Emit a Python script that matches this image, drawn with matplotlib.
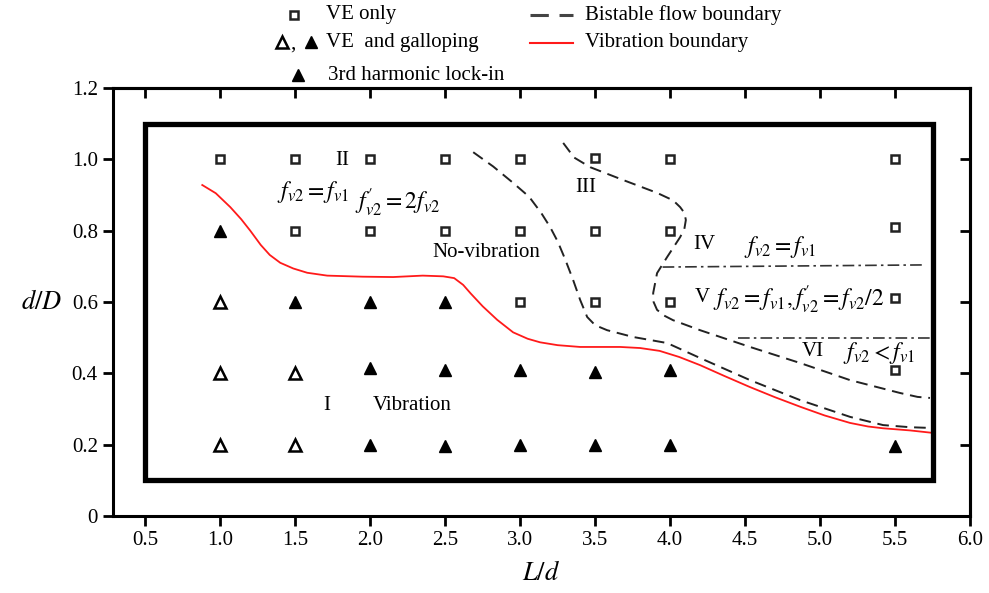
import numpy as np
import matplotlib
matplotlib.use('Agg')
import matplotlib.pyplot as plt
from matplotlib.patches import Rectangle

plt.rcParams['font.family'] = ['Liberation Serif', 'DejaVu Serif']
plt.rcParams['mathtext.fontset'] = 'stix'

# measured points
ve_only_x = [1.0, 1.5, 2.0, 2.5, 3.0, 3.5, 4.0, 5.5,
             1.5, 2.0, 2.5, 3.0, 3.5, 4.0, 5.5,
             3.0, 3.5, 4.0, 5.5, 5.5]
ve_only_y = [1.0, 1.0, 1.0, 1.0, 1.0, 1.005, 1.0, 1.0,
             0.8, 0.8, 0.8, 0.8, 0.8, 0.8, 0.81,
             0.6, 0.6, 0.6, 0.61, 0.41]
gallop_open_x = [1.0, 1.0, 1.5, 1.0, 1.5]
gallop_open_y = [0.6, 0.4, 0.4, 0.2, 0.2]
gallop_fill_x = [1.0, 1.5, 2.0, 2.5, 2.0, 2.5, 3.0, 3.5, 4.0,
                 2.0, 2.5, 3.0, 3.5, 4.0, 5.5]
gallop_fill_y = [0.8, 0.6, 0.6, 0.6, 0.415, 0.41, 0.41, 0.405, 0.41,
                 0.2, 0.195, 0.2, 0.2, 0.2, 0.195]

# vibration boundary (red)
vib_x = [0.88, 0.97, 1.067, 1.14, 1.2, 1.27, 1.33, 1.4, 1.487, 1.58, 1.713, 1.95,
         2.153, 2.35, 2.487, 2.56, 2.62, 2.67, 2.75, 2.847, 2.953, 3.05, 3.133,
         3.25, 3.4, 3.667, 3.8, 3.93, 4.06, 4.2, 4.36, 4.53, 4.7, 4.87, 5.03,
         5.2, 5.32, 5.42, 5.6, 5.753]
vib_y = [0.928, 0.905, 0.866, 0.832, 0.80, 0.76, 0.732, 0.71, 0.694, 0.682, 0.674,
         0.671, 0.67, 0.674, 0.672, 0.667, 0.648, 0.624, 0.588, 0.55, 0.515, 0.497,
         0.487, 0.479, 0.474, 0.474, 0.471, 0.463, 0.446, 0.423, 0.393, 0.362,
         0.333, 0.306, 0.282, 0.261, 0.251, 0.246, 0.24, 0.233]

# bistable flow boundaries (dashed)
bi1_x = [2.687, 2.82, 2.953, 3.06, 3.14, 3.2, 3.25, 3.3, 3.353, 3.4, 3.447, 3.5,
         3.58, 3.753, 3.98, 4.2, 4.533, 4.867, 5.2, 5.42, 5.6, 5.733]
bi1_y = [1.02, 0.98, 0.934, 0.895, 0.85, 0.81, 0.77, 0.72, 0.662, 0.606, 0.558, 0.535,
         0.521, 0.502, 0.485, 0.443, 0.381, 0.325, 0.278, 0.255, 0.249, 0.247]
bi2_x = [3.287, 3.36, 3.467, 3.687, 3.913, 4.02, 4.067, 4.095, 4.105, 4.095, 4.067,
         3.98, 3.913, 3.887, 3.89, 3.913, 3.96, 4.02, 4.2, 4.533, 4.867, 5.2,
         5.533, 5.65, 5.733]
bi2_y = [1.046, 1.005, 0.978, 0.942, 0.906, 0.885, 0.866, 0.85, 0.83, 0.805, 0.782,
         0.726, 0.681, 0.625, 0.6, 0.578, 0.562, 0.549, 0.521, 0.474, 0.429, 0.381,
         0.345, 0.334, 0.331]

# dash-dot region separators
sep_upper_x = [3.95, 5.69]
sep_upper_y = [0.698, 0.704]
sep_lower_x = [4.45, 5.73]
sep_lower_y = [0.5, 0.5]

inner_box = (0.5, 0.1, 5.25, 1.0)

xticks = [0.5, 1.0, 1.5, 2.0, 2.5, 3.0, 3.5, 4.0, 4.5, 5.0, 5.5, 6.0]
yticks = [0, 0.2, 0.4, 0.6, 0.8, 1.0, 1.2]
ytick_labels = ['0', '0.2', '0.4', '0.6', '0.8', '1.0', '1.2']

fig = plt.figure(figsize=(9.89, 5.93), dpi=100)
ax = fig.add_axes([0.1143, 0.1298, 0.8665, 0.7218])

ax.plot(ve_only_x, ve_only_y, 's', ms=5.5, mfc='white', mec='#222222', mew=1.8, zorder=4)
ax.plot(gallop_open_x, gallop_open_y, '^', ms=8, mfc='white', mec='black', mew=1.8, zorder=4)
ax.plot(gallop_fill_x, gallop_fill_y, '^', ms=9, color='black', zorder=4)

ax.plot(vib_x, vib_y, color='#ff1a1a', lw=1.3, zorder=3)
ax.plot(bi1_x, bi1_y, color='#222222', lw=1.4, dashes=(6, 3.5), zorder=3)
ax.plot(bi2_x, bi2_y, color='#222222', lw=1.4, dashes=(6, 3.5), zorder=3)
ax.plot(sep_upper_x, sep_upper_y, color='#333333', lw=1.2, dashes=(7, 2.5, 1.5, 2.5))
ax.plot(sep_lower_x, sep_lower_y, color='#333333', lw=1.2, dashes=(7, 2.5, 1.5, 2.5))

ax.add_patch(Rectangle(inner_box[:2], inner_box[2], inner_box[3], fill=False,
                       lw=3.8, ec='black', zorder=5, joinstyle='miter'))

fs = 15
mfs = 17
ax.text(1.813, 0.998, 'II', fontsize=fs, ha='center', va='center')
ax.text(1.62, 0.908, r'$f_{v2}=f_{v1}$', fontsize=mfs, ha='center', va='center')
ax.text(2.183, 0.877, r"$f^{\prime}_{v2}=2f_{v2}$", fontsize=mfs, ha='center', va='center')
ax.text(2.773, 0.74, 'No-vibration', fontsize=fs, ha='center', va='center')
ax.text(3.44, 0.92, 'III', fontsize=fs, ha='center', va='center')
ax.text(4.23, 0.76, 'IV', fontsize=fs, ha='center', va='center')
ax.text(4.733, 0.754, r'$f_{v2}=f_{v1}$', fontsize=mfs, ha='center', va='center')
ax.text(4.213, 0.613, 'V', fontsize=fs, ha='center', va='center')
ax.text(4.287, 0.607, r"$f_{v2}=f_{v1},f^{\prime}_{v2}=f_{v2}/2$", fontsize=mfs,
        ha='left', va='center')
ax.text(4.95, 0.46, 'VI', fontsize=fs, ha='center', va='center')
ax.text(5.393, 0.458, r'$f_{v2}<f_{v1}$', fontsize=mfs, ha='center', va='center')
ax.text(1.713, 0.311, 'I', fontsize=fs, ha='center', va='center')
ax.text(2.28, 0.311, 'Vibration', fontsize=fs, ha='center', va='center')

ax.set_xlim(0.285, 6.0)
ax.set_ylim(0, 1.2)
ax.set_xticks(xticks)
ax.set_xticklabels(['%.1f' % t for t in xticks])
ax.set_yticks(yticks)
ax.set_yticklabels(ytick_labels)
ax.tick_params(direction='out', length=7, width=2, labelsize=15, pad=4)
for s in ax.spines.values():
    s.set_linewidth(2.2)

top = ax.secondary_xaxis('top')
top.set_xticks(xticks)
top.tick_params(direction='in', length=7, width=2, labeltop=False)
top.spines['top'].set_linewidth(2.2)
right = ax.secondary_yaxis('right')
right.set_yticks(yticks)
right.tick_params(direction='in', length=7, width=2, labelright=False)
right.spines['right'].set_linewidth(2.2)

ax.set_xlabel(r'$L/d$', fontsize=19, labelpad=8)
ax.set_ylabel(r'$d/D$', fontsize=19, rotation=0, labelpad=22, va='center')

# legend drawn above the axes in pixel coordinates
lg = fig.add_axes([0, 0, 1, 1], zorder=10)
lg.set_xlim(0, 989)
lg.set_ylim(593, 0)
lg.axis('off')
lg.plot([294], [15], 's', ms=5.5, mfc='white', mec='#222222', mew=1.8)
lg.text(326, 15, 'VE only', fontsize=fs, va='center')
lg.plot([282], [42], '^', ms=8, mfc='white', mec='black', mew=1.8)
lg.text(290, 44, ',', fontsize=fs, va='center')
lg.plot([311], [42], '^', ms=9, color='black')
lg.text(326, 42, 'VE  and galloping', fontsize=fs, va='center')
lg.plot([298], [75], '^', ms=9, color='black')
lg.text(328, 75, '3rd harmonic lock-in', fontsize=fs, va='center')
lg.plot([530, 573], [15, 15], color='#444444', lw=2.2, dashes=(6, 3.5))
lg.text(585, 15, 'Bistable flow boundary', fontsize=fs, va='center')
lg.plot([530, 573], [43, 43], color='#ff1a1a', lw=1.5)
lg.text(585, 43, 'Vibration boundary', fontsize=fs, va='center')

fig.savefig('out.png', dpi=100)
